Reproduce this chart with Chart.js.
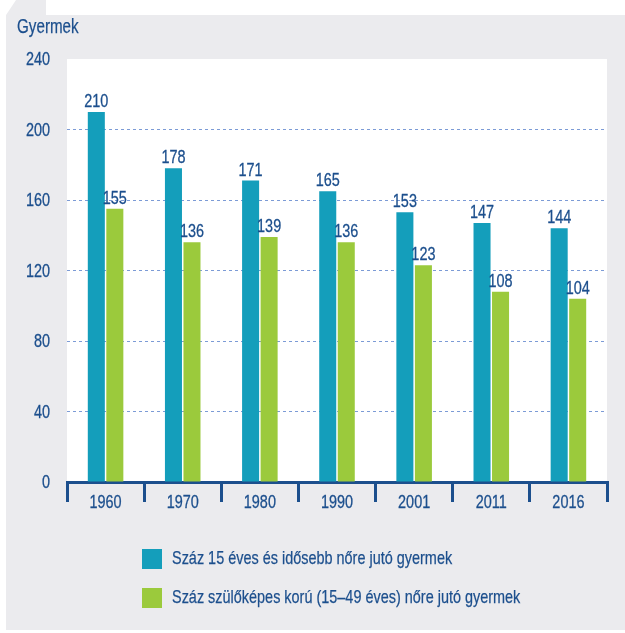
<!DOCTYPE html>
<html>
<head>
<meta charset="utf-8">
<script src="https://cdn.jsdelivr.net/npm/chart.js@4"></script>
<style>
  html, body { margin: 0; padding: 0; background: #fff; }
  body { width: 625px; height: 633px; position: relative; overflow: hidden;
         font-family: 'Liberation Sans', Arial, sans-serif; color: #1c4f8d; }
  #panel { position: absolute; left: 6px; top: 0; width: 619px; height: 630px; background: #ebebee;
           clip-path: polygon(0 15px, 10px 0, 40px 0, 40px 15px, 619px 15px, 619px 630px, 0 630px); }
  #wrap { position: absolute; left: 0; top: 0; width: 625px; height: 633px; }
  .narrow { transform: scaleX(0.76); transform-origin: 0 0; white-space: nowrap;
            -webkit-text-stroke: 0.25px #1c4f8d; }
  #ytitle { position: absolute; left: 17px; top: 15px; font-size: 20px; }
  #legend { position: absolute; left: 142px; top: 549px; font-size: 19px; }
  .item { position: relative; height: 39px; }
  .sw { position: absolute; left: 0; top: 0; width: 20px; height: 20px; }
  .lt { position: absolute; left: 30px; top: -2px; }
</style>
</head>
<body>
<div id="panel"></div>
<div id="wrap"><canvas id="chart" width="625" height="633"></canvas></div>
<div id="ytitle" class="narrow">Gyermek</div>
<div id="legend"></div>
<script>
const years = ['1960', '1970', '1980', '1990', '2001', '2011', '2016'];
const per100Women15Plus = [210, 178, 171, 165, 153, 147, 144];
const per100Women15to49 = [155, 136, 139, 136, 123, 108, 104];
const seriesNames = ['Száz 15 éves és idősebb nőre jutó gyermek', 'Száz szülőképes korú (15–49 éves) nőre jutó gyermek'];
const seriesColors = ['#149ebb', '#9bca3c'];
const yTicks = [0, 40, 80, 120, 160, 200, 240];

const textColor = '#1c4f8d';
const fontFamily = "'Liberation Sans', Arial, sans-serif";
const squeeze = 0.76; // the original uses a condensed face

// write text squeezed horizontally
function narrowText(ctx, text, x, y, align) {
  ctx.save();
  ctx.translate(x, y);
  ctx.scale(squeeze, 1);
  ctx.textAlign = align;
  ctx.fillText(text, 0, 0);
  ctx.strokeText(text, 0, 0);
  ctx.restore();
}

// white plot background
const plotBg = {
  id: 'plotBg',
  beforeDraw(chart) {
    const { ctx, chartArea: a } = chart;
    ctx.save();
    ctx.fillStyle = '#ffffff';
    ctx.fillRect(a.left, a.top, a.right - a.left, a.bottom - a.top);
    ctx.restore();
  }
};

// tick labels and numbers over the bars
const textLayer = {
  id: 'textLayer',
  afterDraw(chart) {
    const ctx = chart.ctx;
    const xs = chart.scales.x, ys = chart.scales.y;
    ctx.save();
    ctx.fillStyle = textColor;
    ctx.strokeStyle = textColor;
    ctx.lineWidth = 0.3;
    ctx.font = '19px ' + fontFamily;
    ctx.textBaseline = 'middle';
    years.forEach((y, i) => narrowText(ctx, y, xs.getPixelForValue(i), xs.top + 21, 'center'));
    yTicks.forEach(v => narrowText(ctx, String(v), ys.right - 17, ys.getPixelForValue(v) + 1, 'right'));
    ctx.textBaseline = 'alphabetic';
    chart.data.datasets.forEach((ds, i) => {
      chart.getDatasetMeta(i).data.forEach((bar, j) => {
        narrowText(ctx, String(ds.data[j]), bar.x, bar.y - 5, 'center');
      });
    });
    ctx.restore();
  }
};

new Chart(document.getElementById('chart'), {
  type: 'bar',
  data: {
    labels: years,
    datasets: [
      { label: seriesNames[0], data: per100Women15Plus, backgroundColor: seriesColors[0] },
      { label: seriesNames[1], data: per100Women15to49, backgroundColor: seriesColors[1] }
    ]
  },
  options: {
    responsive: false,
    animation: false,
    categoryPercentage: 0.48,
    barPercentage: 0.92,
    layout: { padding: { left: 0, top: 59, right: 18, bottom: 0 } },
    plugins: { legend: { display: false }, tooltip: { enabled: false } },
    scales: {
      x: {
        grid: { offset: true, drawOnChartArea: false, color: textColor, lineWidth: 3, tickLength: 20 },
        border: { color: textColor, width: 3 },
        ticks: { display: false },
        afterFit(scale) { scale.height = 151; }
      },
      y: {
        min: 0, max: 240,
        afterBuildTicks(scale) { scale.ticks = yTicks.map(v => ({ value: v })); },
        grid: {
          drawTicks: false,
          color: c => (c.tick && (c.tick.value === 0 || c.tick.value === 240)) ? 'rgba(0,0,0,0)' : '#7c9bd6',
          lineWidth: 1
        },
        border: { display: false, dash: [3, 3] },
        ticks: { display: false },
        afterFit(scale) { scale.width = 67; }
      }
    }
  },
  plugins: [plotBg, textLayer]
});

const legend = document.getElementById('legend');
seriesNames.forEach((name, i) => {
  const item = document.createElement('div');
  item.className = 'item';
  item.innerHTML = '<span class="sw" style="background:' + seriesColors[i] + '"></span><span class="lt narrow"></span>';
  item.querySelector('.lt').textContent = name;
  legend.appendChild(item);
});
</script>
</body>
</html>
